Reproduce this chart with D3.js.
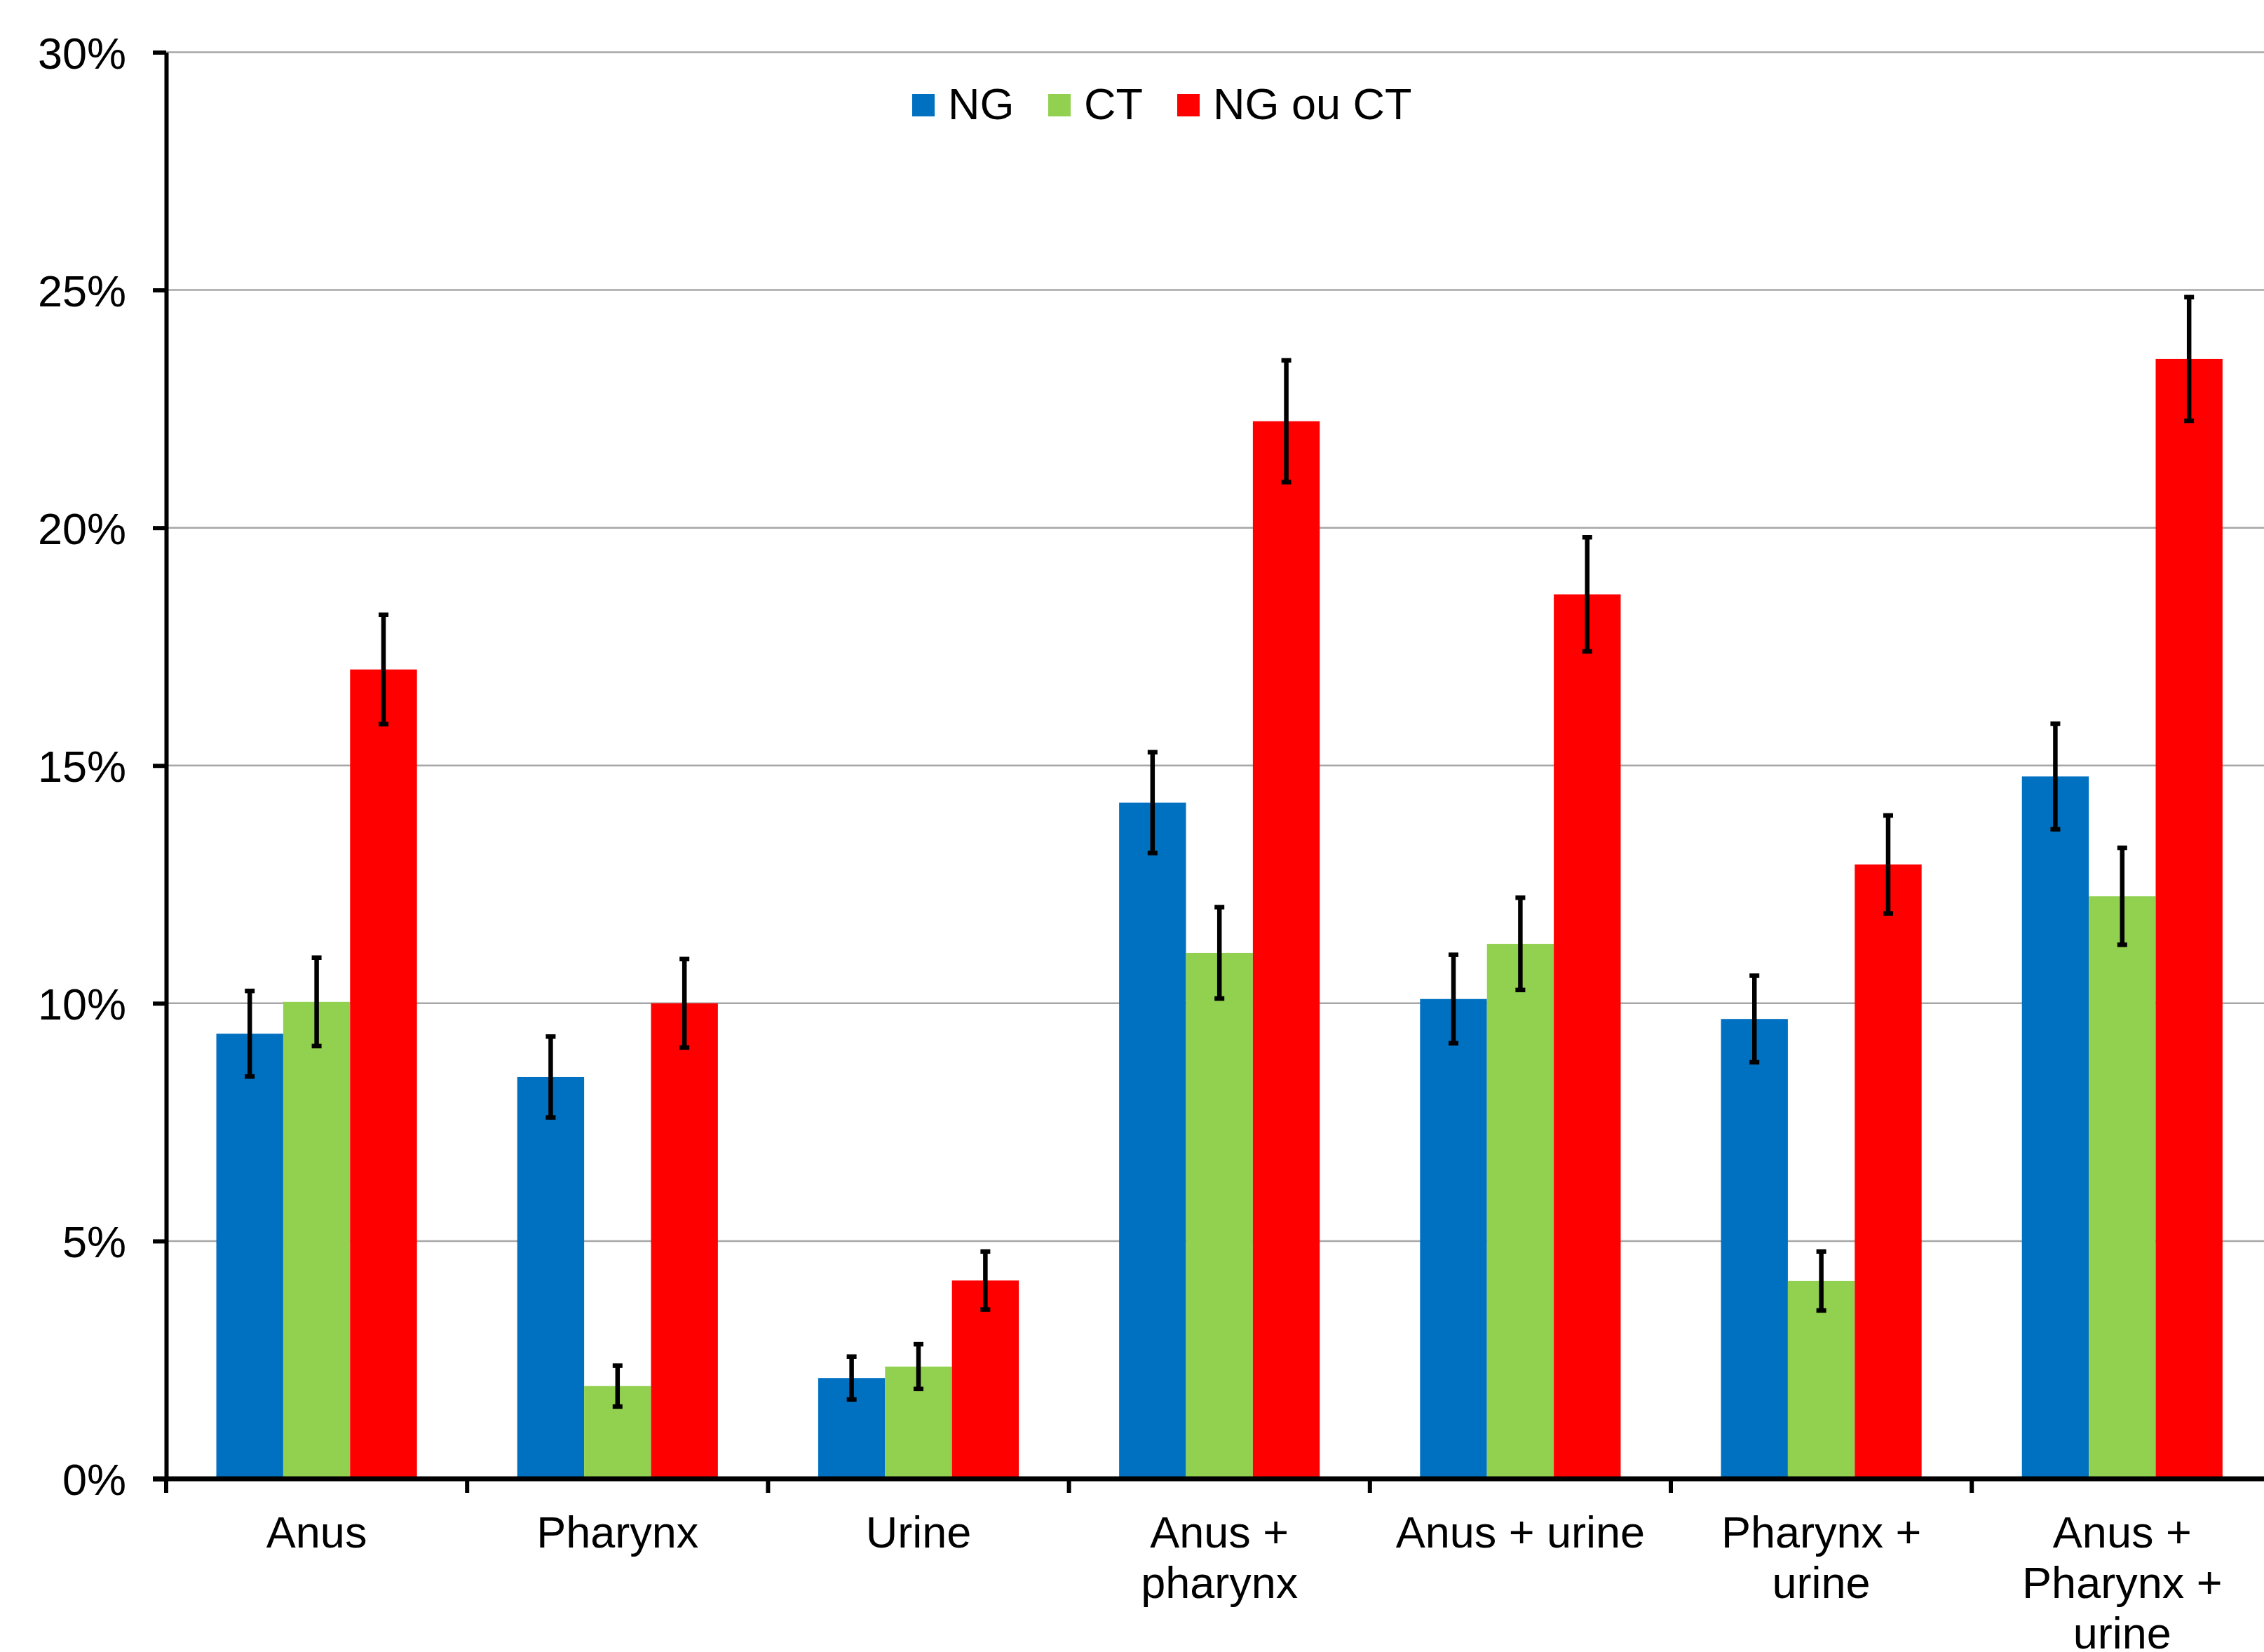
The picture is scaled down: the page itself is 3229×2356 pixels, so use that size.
<!DOCTYPE html>
<html>
<head>
<meta charset="utf-8">
<script src="https://cdn.jsdelivr.net/npm/d3@7"></script>
<style>
  html, body { margin: 0; padding: 0; background: #fff; }
  svg { display: block; }
  text { font-family: "Liberation Sans", Arial, sans-serif; fill: #000; }
</style>
</head>
<body>
<svg id="chart" width="3229" height="2356"></svg>
<script>
// ---- data ----
const categories = ["Anus", "Pharynx", "Urine", "Anus +\npharynx", "Anus + urine", "Pharynx +\nurine", "Anus +\nPharynx +\nurine"];
const seriesNames = ["NG", "CT", "NG ou CT"];
const seriesColors = ["#0070C0", "#92D050", "#FF0000"];
const ngValues   = [9.36, 8.45, 2.12, 14.22, 10.09, 9.67, 14.77];
const ctValues   = [10.03, 1.95, 2.36, 11.06, 11.25, 4.16, 12.25];
const ngctValues = [17.02, 10.0, 4.17, 22.24, 18.6, 12.92, 23.55];
const ngErrors   = [0.90, 0.85, 0.45, 1.06, 0.93, 0.91, 1.11];
const ctErrors   = [0.93, 0.43, 0.47, 0.96, 0.97, 0.62, 1.02];
const ngctErrors = [1.15, 0.93, 0.61, 1.28, 1.20, 1.03, 1.30];
const yTicks = [0, 5, 10, 15, 20, 25, 30];

const seriesValues = [ngValues, ctValues, ngctValues];
const seriesErrors = [ngErrors, ctErrors, ngctErrors];

// ---- layout ----
const svg = d3.select("#chart");
const W = 3229;
const plotLeft = 237, plotRight = 3241.4, plotTop = 74.5, plotBottom = 2109;
const fontSize = 63;

const x = d3.scaleBand().domain(categories).range([plotLeft, plotRight]).paddingInner(0).paddingOuter(0);
const bw = x.bandwidth();
const xs = d3.scaleBand().domain(seriesNames).range([bw / 6, bw * 5 / 6]).padding(0);
const y = d3.scaleLinear().domain([0, 30]).range([plotBottom, plotTop]);

// gridlines
svg.append("g").selectAll("line").data(yTicks.filter(d => d > 0)).join("line")
  .attr("x1", plotLeft).attr("x2", W)
  .attr("y1", d => y(d)).attr("y2", d => y(d))
  .attr("stroke", "#a6a6a6").attr("stroke-width", 2.5);

// bars
const records = [];
categories.forEach((c, i) => {
  seriesNames.forEach((s, j) => {
    records.push({ cat: c, ser: s, v: seriesValues[j][i], e: seriesErrors[j][i], color: seriesColors[j] });
  });
});

svg.append("g").selectAll("rect").data(records).join("rect")
  .attr("x", d => x(d.cat) + xs(d.ser))
  .attr("width", xs.bandwidth())
  .attr("y", d => y(d.v))
  .attr("height", d => y(0) - y(d.v))
  .attr("fill", d => d.color);

// error bars
const eg = svg.append("g").attr("stroke", "#000");
const cx = d => x(d.cat) + xs(d.ser) + xs.bandwidth() / 2;
eg.selectAll("line.v").data(records).join("line").attr("class", "v")
  .attr("x1", cx).attr("x2", cx)
  .attr("y1", d => y(d.v + d.e)).attr("y2", d => y(d.v - d.e))
  .attr("stroke-width", 6.5);
eg.selectAll("line.ct").data(records).join("line").attr("class", "ct")
  .attr("x1", d => cx(d) - 7).attr("x2", d => cx(d) + 7)
  .attr("y1", d => y(d.v + d.e)).attr("y2", d => y(d.v + d.e))
  .attr("stroke-width", 6.5);
eg.selectAll("line.cb").data(records).join("line").attr("class", "cb")
  .attr("x1", d => cx(d) - 7).attr("x2", d => cx(d) + 7)
  .attr("y1", d => y(d.v - d.e)).attr("y2", d => y(d.v - d.e))
  .attr("stroke-width", 6.5);

// y axis
const yAxis = d3.axisLeft(y).tickValues(yTicks).tickFormat(d => d + "%").tickSize(19).tickSizeOuter(0).tickPadding(38);
const ga = svg.append("g").attr("transform", `translate(${plotLeft},0)`).call(yAxis);
ga.select(".domain").attr("stroke", "#000").attr("stroke-width", 6);
ga.selectAll(".tick line").attr("stroke", "#000").attr("stroke-width", 6);
ga.selectAll(".tick text")
  .attr("font-size", fontSize)
  .attr("font-family", "'Liberation Sans', Arial, sans-serif")
  .attr("fill", "#000")
  .attr("dy", "0.36em");

// x axis baseline and ticks
svg.append("line").attr("x1", plotLeft - 19).attr("x2", W).attr("y1", y(0)).attr("y2", y(0))
  .attr("stroke", "#000").attr("stroke-width", 7);
const bounds = categories.map(c => x(c)).concat([x(categories[categories.length - 1]) + bw]);
svg.append("g").selectAll("line").data(bounds).join("line")
  .attr("x1", d => d).attr("x2", d => d)
  .attr("y1", y(0)).attr("y2", y(0) + 20)
  .attr("stroke", "#000").attr("stroke-width", 6);

// category labels
const lg = svg.append("g").attr("font-size", fontSize).attr("text-anchor", "middle");
categories.forEach(c => {
  const t = lg.append("text").attr("x", x(c) + bw / 2).attr("y", 2207);
  c.split("\n").forEach((line, k) => {
    t.append("tspan").attr("x", x(c) + bw / 2).attr("dy", k === 0 ? 0 : 72).text(line);
  });
});

// legend
const legendX = [1301, 1495, 1679];
const leg = svg.append("g");
seriesNames.forEach((s, j) => {
  leg.append("rect").attr("x", legendX[j]).attr("y", 134).attr("width", 32).attr("height", 32).attr("fill", seriesColors[j]);
  leg.append("text").attr("x", legendX[j] + 51).attr("y", 170).attr("font-size", fontSize).text(s);
});
</script>
</body>
</html>
